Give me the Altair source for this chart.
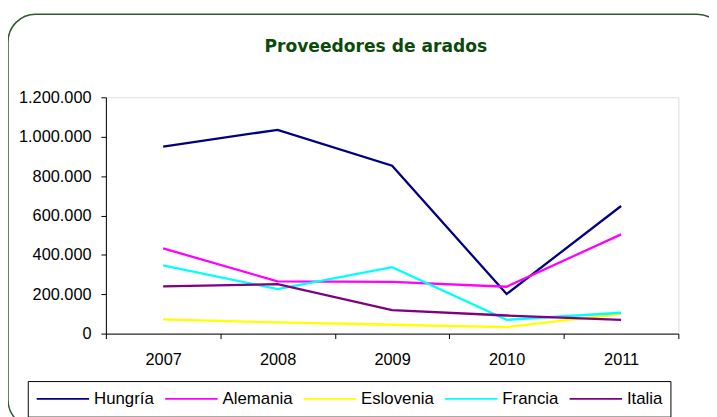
import altair as alt
import pandas as pd

years = ["2007", "2008", "2009", "2010", "2011"]
countries = ["Hungría", "Alemania", "Eslovenia", "Francia", "Italia"]
colors = ["#000080", "#FF00FF", "#FFFF00", "#00FFFF", "#800080"]

hungria = [950000, 1035000, 853000, 201000, 648000]
alemania = [433000, 265000, 263000, 238000, 504000]
eslovenia = [72000, 57000, 45000, 33000, 100000]
francia = [347000, 226000, 337000, 70000, 106000]
italia = [240000, 251000, 119000, 92000, 70000]

y_ticks = [0, 200000, 400000, 600000, 800000, 1000000, 1200000]
title_text = ["Proveedores de arados"]

series = dict(zip(countries, [hungria, alemania, eslovenia, francia, italia]))
rows = []
for c in countries:
    for yr, v in zip(years, series[c]):
        rows.append({"year": yr, "country": c, "value": v})
df = pd.DataFrame(rows)

W, H = 579, 239
PL, PT = 99, 88
PR = 709 - PL - W
PB = 409 - PT - H

frame = alt.Chart(pd.DataFrame({"a": [0]})).mark_rect(
    fill=None, stroke="#2E5A2E", strokeWidth=1.5, cornerRadius=28
).encode(
    x=alt.value(-99), x2=alt.value(626), y=alt.value(-84), y2=alt.value(334)
)

title = alt.Chart(pd.DataFrame({"t": title_text})).mark_text(
    font="DejaVu Sans", fontSize=17.3, fontWeight="bold", color="#0B4A0B",
    align="center", baseline="middle",
).encode(
    text="t:N", x=alt.value(273), y=alt.value(-51)
)

lines = alt.Chart(df).mark_line(strokeWidth=2.3, clip=False).encode(
    x=alt.X(
        "year:O",
        bandPosition=0.5,
        scale=alt.Scale(type="band", paddingInner=0, paddingOuter=0),
        axis=alt.Axis(
            title=None, labelAngle=0, tickBand="extent", domainColor="black",
            tickColor="black", tickSize=5, labelPadding=13, labelFontSize=16.5,
            labelFont="Liberation Sans", labelColor="black", grid=False,
        ),
    ),
    y=alt.Y(
        "value:Q",
        scale=alt.Scale(domain=[0, 1200000], nice=False),
        axis=alt.Axis(
            title=None, values=y_ticks, grid=False, domainColor="black",
            tickColor="black", tickSize=5, labelPadding=10, labelFontSize=16.5,
            labelFont="Liberation Sans", labelColor="black",
            labelExpr="replace(format(datum.value, ','), regexp(',', 'g'), '.')",
        ),
    ),
    color=alt.Color(
        "country:N",
        scale=alt.Scale(domain=countries, range=colors),
        legend=alt.Legend(
            title=None, orient="none", legendX=-79, legendY=287,
            direction="horizontal", columns=5, symbolType="stroke",
            symbolStrokeWidth=2, symbolSize=2809, labelFontSize=17,
            labelFont="Liberation Sans", labelColor="black", labelOffset=4,
            columnPadding=10, clipHeight=20, padding=8, strokeColor="black",
            fillColor="white",
        ),
    ),
    order=alt.Order("year:O"),
)

chart = alt.layer(frame, title, lines).properties(
    width=W, height=H,
    padding={"left": PL, "top": PT, "right": PR, "bottom": PB},
    autosize=alt.AutoSizeParams(type="none"),
).configure_view(
    fill="#CCFFCC", stroke="#808080", strokeWidth=2
).configure(background="white")

chart.save("out.html", embed_options={"renderer": "svg", "actions": False})
